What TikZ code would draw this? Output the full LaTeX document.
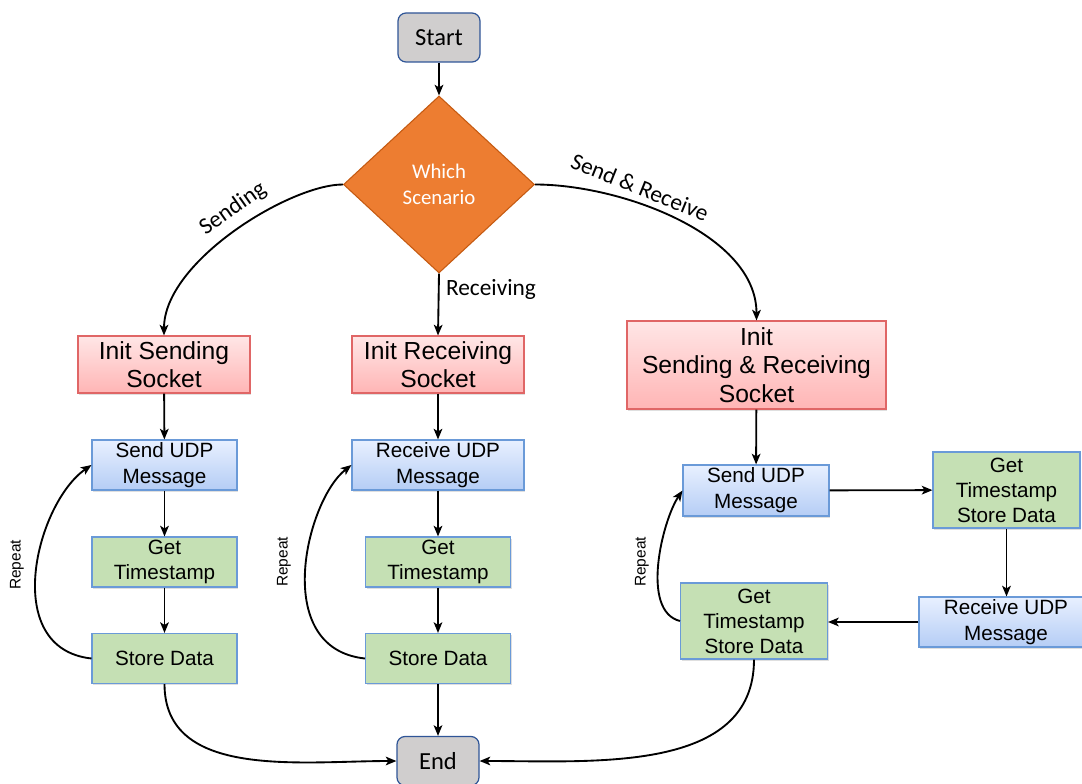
\documentclass[tikz,border=0pt]{standalone}
\usepackage{fontspec}
\setmainfont{Liberation Sans}
\newfontfamily\calfont{Carlito}
\usetikzlibrary{shapes.geometric,arrows.meta,shadows}

\definecolor{termfill}{HTML}{D0CECE}
\definecolor{termedge}{HTML}{2F5597}
\definecolor{decfill}{HTML}{ED7D31}
\definecolor{decedge}{HTML}{C55A11}
\definecolor{redtop}{HTML}{FFE6E6}
\definecolor{redbot}{HTML}{FFB5B5}
\definecolor{rededge}{HTML}{E06666}
\definecolor{bluetop}{HTML}{E8F0FF}
\definecolor{bluebot}{HTML}{B5CDF5}
\definecolor{boxedge}{HTML}{6A9AD8}
\definecolor{greenfill}{HTML}{C5E0B4}

\begin{document}
\begin{tikzpicture}[x=0.75pt,y=-0.75pt,
  conn/.style={line width=1.4pt,-{Stealth[length=8pt,width=6.5pt,inset=2pt]}},
  term/.style={draw=termedge,line width=0.9pt,fill=termfill,rounded corners=6pt,
    font=\calfont\fontsize{18.4}{22}\selectfont,minimum width=61.5pt,minimum height=36.75pt,inner sep=0pt},
  decision/.style={diamond,draw=decedge,line width=0.8pt,fill=decfill,text=white,
    font=\calfont\fontsize{15.6}{19.5}\selectfont,align=center,
    minimum width=143.25pt,minimum height=132.75pt,inner sep=0pt},
  shadowed/.style={drop shadow={opacity=0.25,shadow xshift=1pt,shadow yshift=-1.2pt}},
  initbox/.style={draw=rededge,line width=0.8pt,top color=redtop,bottom color=redbot,shadowed,
    font=\fontsize{18.5}{21.2}\selectfont,align=center,inner sep=0pt},
  udpbox/.style={draw=boxedge,line width=0.8pt,top color=bluetop,bottom color=bluebot,shadowed,
    font=\fontsize{15.5}{19.5}\selectfont,align=center,inner sep=0pt,minimum height=37.5pt},
  databox/.style={draw=boxedge,line width=0.8pt,fill=greenfill,shadowed,
    font=\fontsize{15.5}{19}\selectfont,align=center,inner sep=0pt,minimum height=37.5pt},
  elab/.style={font=\calfont\fontsize{17.5}{20}\selectfont,inner sep=0pt},
  replab/.style={font=\fontsize{11.6}{13}\selectfont,inner sep=0pt,rotate=90}
]
\useasboundingbox (0,0) rectangle (1082,784);

% start and decision
\node[term] (start) at (439,37.5) {Start};
\node[decision] (dia) at (439,184.5) {Which\\Scenario};

% socket set-up
\node[initbox,minimum width=129pt,minimum height=42.75pt] (isend) at (164,364.5) {Init Sending\\Socket};
\node[initbox,minimum width=129pt,minimum height=42.75pt] (irecv) at (438,364.5) {Init Receiving\\Socket};
\node[initbox,minimum width=194.25pt,minimum height=66pt] (isr) at (756.5,365) {Init\\Sending \& Receiving\\Socket};

% sending column
\node[udpbox,minimum width=108.75pt] (su1) at (164.5,465) {Send UDP\\Message};
\node[databox,minimum width=108.75pt] (gt1) at (164.5,562) {Get\\Timestamp};
\node[databox,minimum width=108.75pt] (sd1) at (164.5,658.5) {Store Data};

% receiving column
\node[udpbox,minimum width=129pt] (ru2) at (438,465) {Receive UDP\\Message};
\node[databox,minimum width=108.75pt] (gt2) at (438,562) {Get\\Timestamp};
\node[databox,minimum width=108.75pt] (sd2) at (438,658.5) {Store Data};

% send & receive block
\node[udpbox,minimum width=109.5pt,minimum height=38.25pt] (su3) at (756,490.5) {Send UDP\\Message};
\node[databox,minimum width=110.25pt,minimum height=57pt,font=\fontsize{15.5}{18.75}\selectfont] (gs3) at (1006.5,490) {Get\\Timestamp\\Store Data};
\node[udpbox,minimum width=130.5pt] (ru3) at (1006,622) {Receive UDP\\Message};
\node[databox,minimum width=110.25pt,minimum height=57pt,font=\fontsize{15.5}{18.75}\selectfont] (gs4) at (754,621) {Get\\Timestamp\\Store Data};

% end
\node[term] (end) at (438,761) {End};

% branches
\draw[conn] (start) -- (dia);
\draw[conn] (dia.west) .. controls +(-53,0) and +(0,-74) .. (isend.north);
\draw[conn] (dia.south) -- (irecv.north);
\draw[conn] (dia.east) .. controls +(86,0) and +(0,-86) .. (isr.north);
\node[elab,rotate=35] (lsend) at (233,209) {Sending};
\node[elab] (lrecv) at (491,289) {Receiving};
\node[elab,rotate=-22] (lsr) at (640,187) {Send \& Receive};

% sending flow
\draw[conn] (isend) -- (su1);
\draw[conn] (su1) -- (gt1);
\draw[conn] (gt1) -- (sd1);
\draw[conn] (sd1.west) .. controls +(-92,-10) and +(-55,38) .. (su1.west);
\node[replab] (rep1) at (17,565) {Repeat};

% receiving flow
\draw[conn] (irecv) -- (ru2);
\draw[conn] (ru2) -- (gt2);
\draw[conn] (gt2) -- (sd2);
\draw[conn] (sd2.west) .. controls +(-95,-10) and +(-45,35) .. (ru2.west);
\node[replab] (rep2) at (284,562) {Repeat};

% send & receive flow
\draw[conn] (isr) -- (su3);
\draw[conn] (su3) -- (gs3);
\draw[conn] (gs3) -- (gs3 |- ru3.north);
\draw[conn] (ru3.west) -- (gs4.east |- ru3.west);
\draw[conn] (gs4.west) .. controls +(-40,-10) and +(-20,30) .. (su3.west);
\node[replab] (rep3) at (642,562) {Repeat};

% to the end
\draw[conn] (sd1.south) to[out=-90,in=180] (end.west);
\draw[conn] (sd2) -- (end);
\draw[conn] (gs4.south) to[out=-90,in=0] (end.east);
\end{tikzpicture}
\end{document}
